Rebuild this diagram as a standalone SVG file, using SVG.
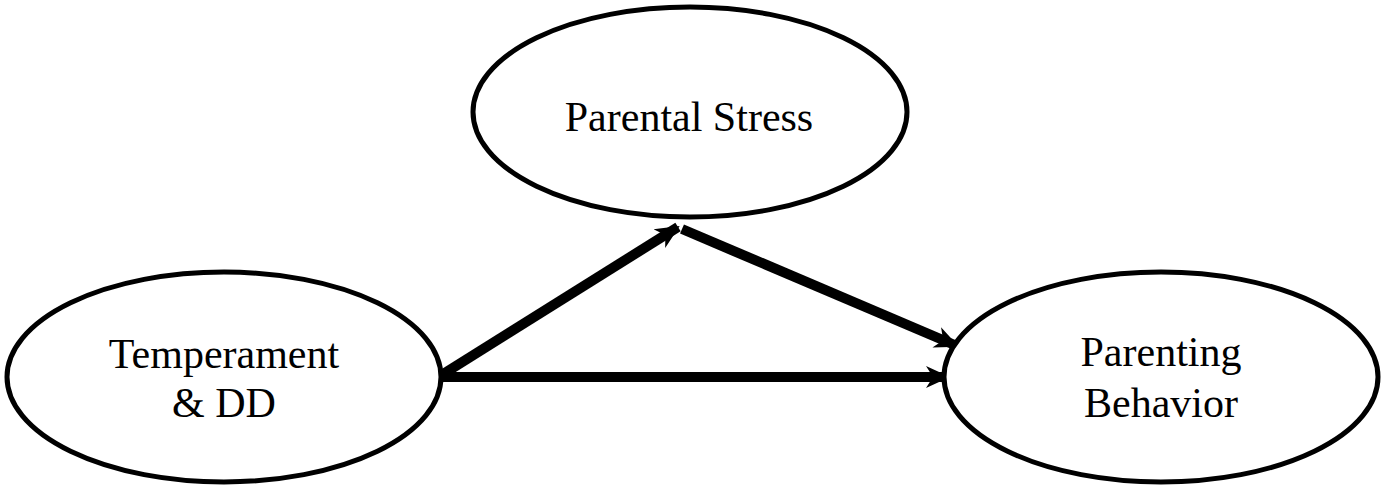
<svg xmlns="http://www.w3.org/2000/svg" width="1383" height="485" viewBox="0 0 1383 485">
<style>
.node ellipse{fill:#fff;stroke:#000;stroke-width:5}
.lbl{font-family:'Liberation Serif','DejaVu Serif',serif;font-size:42px;fill:#000;text-anchor:middle}
.edge{stroke:#000;stroke-width:10;fill:none}
</style>
<defs>
<marker id="ah" markerUnits="userSpaceOnUse" markerWidth="26" markerHeight="26" viewBox="0 0 26 26" refX="22" refY="13" orient="auto">
<path d="M0,2 L24,13 L0,24 L7,13 z" fill="#000"/>
</marker>
</defs>
<g id="connectors">
<line class="edge" x1="440" y1="377" x2="948" y2="377" marker-end="url(#ah)"/>
<line class="edge" x1="440" y1="376" x2="678" y2="227" marker-end="url(#ah)"/>
<line class="edge" x1="682" y1="229" x2="957" y2="346" marker-end="url(#ah)"/>
</g>
<g id="parental-stress" class="node">
<ellipse cx="690" cy="112" rx="217" ry="105"/>
<text class="lbl" x="689" y="131">Parental Stress</text>
</g>
<g id="temperament" class="node">
<ellipse cx="224" cy="377" rx="217" ry="105"/>
<text class="lbl" x="224" y="368">Temperament</text>
<text class="lbl" x="224" y="417">&amp; DD</text>
</g>
<g id="parenting-behavior" class="node">
<ellipse cx="1161" cy="377" rx="217" ry="105"/>
<text class="lbl" x="1161" y="366">Parenting</text>
<text class="lbl" x="1161" y="417">Behavior</text>
</g>
</svg>
